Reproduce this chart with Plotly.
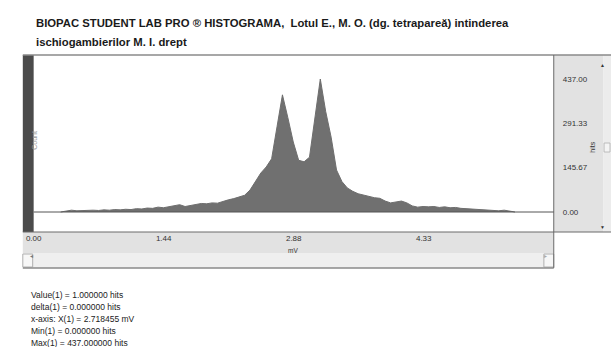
import plotly.graph_objects as go

W, H = 611, 347

# ---- data ----
bin_mv = [0.30, 0.36, 0.42, 0.48, 0.54, 0.60, 0.66, 0.72, 0.78, 0.84, 0.90, 0.96,
          1.02, 1.08, 1.14, 1.20, 1.26, 1.32, 1.38, 1.44, 1.50, 1.56, 1.62, 1.68,
          1.74, 1.80, 1.86, 1.92, 1.98, 2.04, 2.10, 2.16, 2.22, 2.28, 2.34, 2.40,
          2.46, 2.52, 2.58, 2.64, 2.70, 2.76, 2.82, 2.88, 2.94, 3.00, 3.06, 3.12,
          3.18, 3.24, 3.30, 3.36, 3.42, 3.48, 3.54, 3.60, 3.66, 3.72, 3.78, 3.84,
          3.90, 3.96, 4.02, 4.08, 4.14, 4.20, 4.26, 4.32, 4.38, 4.44, 4.50, 4.56,
          4.62, 4.68, 4.74, 4.80, 4.86, 4.92, 4.98, 5.04, 5.10, 5.16, 5.22, 5.28, 5.34]
hits = [0, 3, 6, 4, 5, 4, 6, 5, 7, 6, 8, 7,
        9, 8, 11, 10, 13, 12, 16, 14, 18, 22, 24, 18,
        22, 26, 28, 27, 30, 29, 35, 40, 44, 50, 55, 72,
        100, 128, 148, 175, 280, 385, 310, 230, 170, 165, 180, 310,
        437, 330, 246, 138, 100, 79, 68, 60, 55, 50, 47, 45,
        36, 30, 32, 36, 30, 20, 16, 18, 17, 18, 15, 17,
        14, 15, 12, 11, 10, 8, 7, 6, 5, 4, 6, 3, 0]

x_tick_vals = [0.0, 1.4425, 2.885, 4.3275]
x_tick_text = ["0.00", "1.44", "2.88", "4.33"]
y_tick_vals = [0.0, 145.67, 291.33, 437.0]
y_tick_text = ["0.00", "145.67", "291.33", "437.00"]

title_l1 = "BIOPAC STUDENT LAB PRO \u00ae HISTOGRAMA,  Lotul E., M. O. (dg. tetrapare\u0103) intinderea"
title_l2 = "ischiogambierilor M. I. drept"
info_lines = ["Value(1) = 1.000000 hits",
              "delta(1) = 0.000000 hits",
              "x-axis: X(1) = 2.718455 mV",
              "Min(1) = 0.000000 hits",
              "Max(1) = 437.000000 hits"]

FONT = "Liberation Sans"

def px(x):
    return x / W

def py(y):
    return 1 - y / H

def rect(x0, y0, x1, y1, fill, line="rgba(0,0,0,0)", lw=0):
    return dict(type="rect", xref="paper", yref="paper",
                x0=px(x0), x1=px(x1), y0=py(y1), y1=py(y0),
                fillcolor=fill, line=dict(color=line, width=lw), layer="below")

def hline(x0, x1, y, color="#6a6a6a", lw=1):
    return dict(type="line", xref="paper", yref="paper",
                x0=px(x0), x1=px(x1), y0=py(y), y1=py(y),
                line=dict(color=color, width=lw))

def vline(x, y0, y1, color="#6a6a6a", lw=1):
    return dict(type="line", xref="paper", yref="paper",
                x0=px(x), x1=px(x), y0=py(y0), y1=py(y1),
                line=dict(color=color, width=lw))

fig = go.Figure()
fig.add_trace(go.Scatter(x=bin_mv, y=hits, mode="lines", fill="tozeroy",
                         line=dict(color="#6e6e6e", width=1),
                         fillcolor="#707070", hoverinfo="skip", showlegend=False))

shapes = [
    rect(553, 55, 603, 232, "#e2e2e2"),          # y label panel
    rect(603, 55, 611, 232, "#ececec"),          # vertical scrollbar
    rect(15, 55, 26, 232, "#4b4b4b"),            # left channel bar
    rect(15, 232, 553, 253, "#e2e2e2"),          # x axis strip
    rect(15, 253, 553, 268, "#efefef"),          # scrollbar
    rect(15, 254, 25, 267, "#f7f7f7", "#b0b0b0", 1),
    rect(543, 254, 553, 267, "#f7f7f7", "#b0b0b0", 1),
    hline(15, 611, 55, "#8a8a8a", 1.5),
    hline(15, 611, 232, "#6a6a6a", 1),
    hline(15, 553, 268, "#8a8a8a", 1.5),
    vline(553, 55, 268, "#6a6a6a", 1),
    hline(26, 553, 212, "#555555", 1),           # zero line
    rect(604, 143, 610, 152, "#f4f4f4", "#b0b0b0", 0.8),
]

annotations = [
    dict(text="<b>" + title_l1 + "</b>", x=px(26), y=py(23), xref="paper", yref="paper",
         xanchor="left", yanchor="middle", showarrow=False,
         font=dict(family=FONT, size=11.3, color="#1a1a1a")),
    dict(text="<b>" + title_l2 + "</b>", x=px(26), y=py(42), xref="paper", yref="paper",
         xanchor="left", yanchor="middle", showarrow=False,
         font=dict(family=FONT, size=11.3, color="#1a1a1a")),
    dict(text="Count", x=px(20.5), y=py(140), xref="paper", yref="paper", textangle=-90,
         showarrow=False, font=dict(family=FONT, size=7, color="#9a9a9a")),
    dict(text="hits", x=px(597), y=py(147), xref="paper", yref="paper", textangle=-90,
         showarrow=False, font=dict(family=FONT, size=7, color="#333333")),
    dict(text="mV", x=px(289), y=py(244.5), xref="paper", yref="paper",
         xanchor="center", yanchor="top", showarrow=False,
         font=dict(family=FONT, size=6.5, color="#333333")),
    dict(text="\u25b2", x=px(607), y=py(60), xref="paper", yref="paper",
         showarrow=False, font=dict(family=FONT, size=5, color="#333333")),
    dict(text="\u25bc", x=px(607), y=py(227), xref="paper", yref="paper",
         showarrow=False, font=dict(family=FONT, size=5, color="#333333")),
    dict(text="\u25c2", x=px(20), y=py(260.5), xref="paper", yref="paper",
         showarrow=False, font=dict(family=FONT, size=6, color="#777777")),
    dict(text="\u25b8", x=px(548), y=py(260.5), xref="paper", yref="paper",
         showarrow=False, font=dict(family=FONT, size=6, color="#aaaaaa")),
]
for i, t in enumerate(info_lines):
    annotations.append(dict(text=t, x=px(21), y=py(295 + 12 * i), xref="paper", yref="paper",
                            xanchor="left", yanchor="middle", showarrow=False,
                            font=dict(family=FONT, size=8.5, color="#222222")))

fig.update_layout(
    width=W, height=H,
    margin=dict(l=0, r=0, t=0, b=0),
    paper_bgcolor="white", plot_bgcolor="white",
    showlegend=False,
    shapes=shapes, annotations=annotations,
    xaxis=dict(domain=[px(26), px(553)], range=[0, 5.77], tickvals=x_tick_vals,
               ticktext=x_tick_text, showgrid=False, zeroline=False, ticks="",
               tickfont=dict(family=FONT, size=8, color="#333333"),
               ticklabelstandoff=0, fixedrange=True),
    yaxis=dict(domain=[py(232), py(55)], range=[-65.7, 515.9], side="right",
               tickvals=y_tick_vals, ticktext=y_tick_text, showgrid=False,
               zeroline=False, ticks="", ticklabelstandoff=8,
               tickfont=dict(family=FONT, size=8, color="#333333"), fixedrange=True),
)

fig.write_html("out.html")
